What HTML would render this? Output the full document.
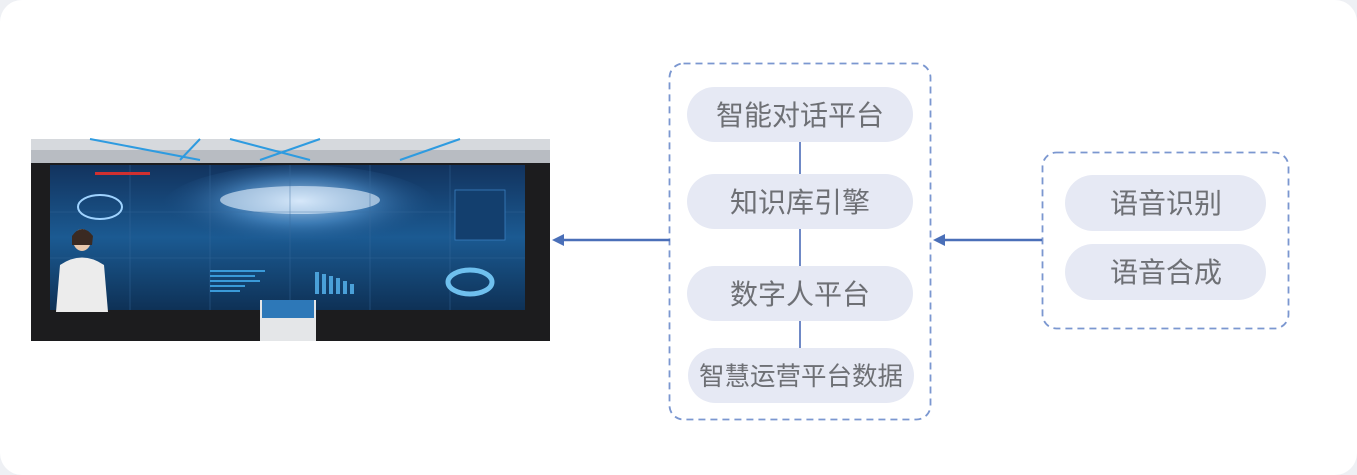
<!DOCTYPE html>
<html><head><meta charset="utf-8"><style>
html,body{margin:0;padding:0;background:#eef0f4;}
svg{display:block;}
text{font-family:"Liberation Sans","Noto Sans CJK SC",sans-serif;fill:#6e7075;}
</style></head><body>
<svg width="1357" height="475" viewBox="0 0 1357 475" xmlns="http://www.w3.org/2000/svg">
<defs>
<linearGradient id="scr" x1="0" y1="0" x2="0" y2="1">
<stop offset="0" stop-color="#12335e"/><stop offset="0.5" stop-color="#1b5a92"/><stop offset="1" stop-color="#0e3156"/>
</linearGradient>
<radialGradient id="map" cx="0.5" cy="0.4" r="0.5">
<stop offset="0" stop-color="#cfe6ff" stop-opacity="0.9"/><stop offset="0.5" stop-color="#5fa3e0" stop-opacity="0.5"/><stop offset="1" stop-color="#1a4f86" stop-opacity="0"/>
</radialGradient>
</defs>
<rect x="0" y="0" width="1357" height="475" rx="22" fill="#ffffff"/>
<rect x="31" y="139" width="519" height="202" fill="#1c1c1e"/>
<rect x="31" y="139" width="519" height="24" fill="#b8bcc2"/>
<polygon points="31,139 550,139 550,150 31,150" fill="#d6d9dd"/>
<line x1="90" y1="139" x2="200" y2="160" stroke="#2e9be0" stroke-width="2"/>
<line x1="200" y1="139" x2="180" y2="160" stroke="#2e9be0" stroke-width="2"/>
<line x1="230" y1="139" x2="310" y2="160" stroke="#2e9be0" stroke-width="2"/>
<line x1="320" y1="139" x2="260" y2="160" stroke="#2e9be0" stroke-width="2"/>
<line x1="460" y1="139" x2="400" y2="160" stroke="#2e9be0" stroke-width="2"/>
<rect x="50" y="165" width="475" height="145" fill="url(#scr)"/>
<ellipse cx="300" cy="210" rx="140" ry="45" fill="url(#map)"/>
<ellipse cx="300" cy="200" rx="80" ry="14" fill="#e8f4ff" opacity="0.6"/>
<g stroke="#3a6c9e" stroke-width="0.6" opacity="0.7">
<line x1="130" y1="165" x2="130" y2="310"/><line x1="210" y1="165" x2="210" y2="310"/><line x1="290" y1="165" x2="290" y2="310"/><line x1="370" y1="165" x2="370" y2="310"/><line x1="450" y1="165" x2="450" y2="310"/>
<line x1="50" y1="212" x2="525" y2="212"/><line x1="50" y1="258" x2="525" y2="258"/>
</g>
<ellipse cx="100" cy="207" rx="22" ry="12" fill="none" stroke="#9fd3ff" stroke-width="2"/>
<ellipse cx="470" cy="282" rx="22" ry="12" fill="none" stroke="#6fc0ee" stroke-width="5"/>
<rect x="455" y="190" width="50" height="50" fill="#133f6e" stroke="#3a7fc0" stroke-width="0.8"/>
<g fill="#3a9ad8"><rect x="210" y="270" width="55" height="2"/><rect x="210" y="275" width="45" height="2"/><rect x="210" y="280" width="50" height="2"/><rect x="210" y="285" width="35" height="2"/><rect x="210" y="290" width="30" height="2"/></g>
<g fill="#4aa0d8"><rect x="315" y="272" width="4" height="22"/><rect x="322" y="274" width="4" height="20"/><rect x="329" y="276" width="4" height="18"/><rect x="336" y="278" width="4" height="16"/><rect x="343" y="281" width="4" height="13"/><rect x="350" y="284" width="4" height="10"/></g>
<rect x="95" y="172" width="55" height="3" fill="#d03030"/>
<ellipse cx="82" cy="240" rx="9" ry="11" fill="#e9c9ae"/>
<path d="M72 236 Q82 222 93 236 L92 245 L72 245 Z" fill="#3a2a22"/>
<path d="M60 265 Q82 250 104 265 L108 312 L56 312 Z" fill="#ececec"/>
<rect x="260" y="300" width="56" height="41" fill="#e4e6e8"/>
<rect x="262" y="300" width="52" height="18" fill="#2d78b8"/>
<rect x="669.5" y="63.5" width="261" height="356" rx="14" fill="none" stroke="#7b97d0" stroke-width="1.8" stroke-dasharray="7 5"/>
<g stroke="#6f89c6" stroke-width="2">
<line x1="800" y1="141" x2="800" y2="174"/><line x1="800" y1="228" x2="800" y2="266"/><line x1="800" y1="320" x2="800" y2="348"/>
</g>
<g fill="#e6e9f4">
<rect x="687" y="87" width="226" height="55" rx="27.5"/>
<rect x="687" y="174" width="226" height="55" rx="27.5"/>
<rect x="687" y="266" width="226" height="55" rx="27.5"/>
<rect x="688" y="348" width="226" height="55" rx="27.5"/>
</g>
<g text-anchor="middle">
<text x="800" y="125" font-size="28">智能对话平台</text>
<text x="800" y="212" font-size="28">知识库引擎</text>
<text x="800" y="304" font-size="28">数字人平台</text>
<text x="801" y="385" font-size="25.5">智慧运营平台数据</text>
</g>
<rect x="1042.5" y="152.5" width="246" height="176" rx="14" fill="none" stroke="#7b97d0" stroke-width="1.8" stroke-dasharray="7 5"/>
<g fill="#e6e9f4">
<rect x="1065" y="175" width="201" height="56" rx="28"/>
<rect x="1065" y="244" width="201" height="56" rx="28"/>
</g>
<g text-anchor="middle">
<text x="1166" y="213" font-size="28">语音识别</text>
<text x="1166" y="282" font-size="28">语音合成</text>
</g>
<g stroke="#4a6fb8" stroke-width="2.5">
<line x1="1042" y1="240" x2="944" y2="240"/>
<line x1="670" y1="240" x2="562" y2="240"/>
</g>
<polygon points="933,240 945,234 945,246" fill="#4a6fb8"/>
<polygon points="552,240 564,234 564,246" fill="#4a6fb8"/>
</svg>
</body></html>
